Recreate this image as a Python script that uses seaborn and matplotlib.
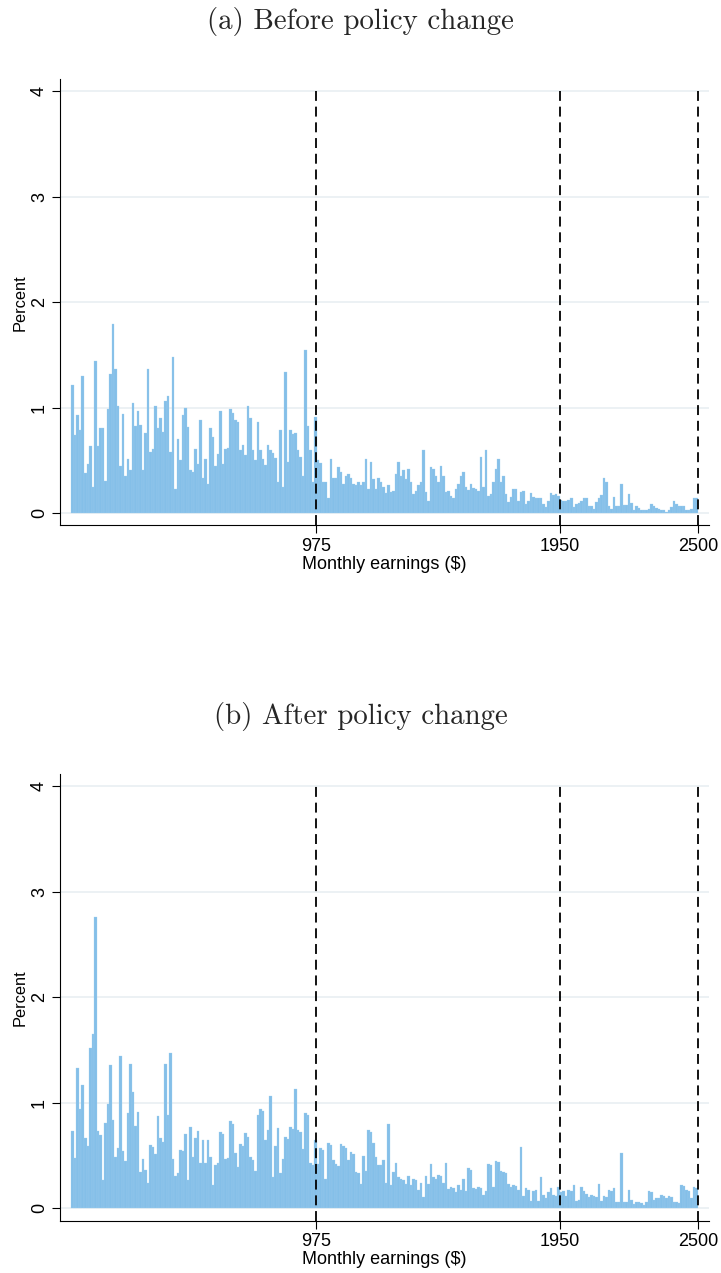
import numpy as np
import pandas as pd
import matplotlib
matplotlib.use("Agg")
import matplotlib.pyplot as plt
import seaborn as sns

# bins of $10 from 0 to 2500, values are percent of workers in each bin
bin_width = 10
bin_edges = np.arange(0, 2500 + bin_width, bin_width)
cutoffs = [975, 1950, 2500]
y_ticks = [0, 1, 2, 3, 4]
x_ticks = [975, 1950, 2500]
panel_titles = ["(a) Before policy change", "(b) After policy change"]

pct_before = [
    1.21, 0.74, 0.93, 0.79, 1.30, 0.38, 0.47, 0.64, 0.25, 1.44,
    0.64, 0.81, 0.81, 0.31, 0.99, 1.32, 1.79, 1.37, 1.02, 0.45,
    0.94, 0.35, 0.51, 0.41, 1.04, 0.83, 0.97, 0.84, 0.41, 0.76,
    1.37, 0.58, 0.61, 1.02, 0.81, 0.90, 0.77, 1.06, 1.11, 0.58,
    1.48, 0.23, 0.70, 0.50, 0.93, 1.00, 0.82, 0.41, 0.39, 0.61,
    0.47, 0.88, 0.33, 0.51, 0.28, 0.81, 0.72, 0.45, 0.56, 0.97,
    0.47, 0.61, 0.62, 0.99, 0.95, 0.88, 0.86, 0.60, 0.65, 0.55,
    1.02, 0.90, 0.60, 0.50, 0.86, 0.60, 0.51, 0.46, 0.65, 0.60,
    0.57, 0.52, 0.30, 0.79, 0.25, 1.34, 0.49, 0.79, 0.75, 0.76,
    0.60, 0.53, 0.35, 1.55, 0.83, 0.60, 0.30, 0.91, 0.50, 0.48,
    0.30, 0.30, 0.14, 0.51, 0.33, 0.33, 0.44, 0.39, 0.28, 0.35,
    0.37, 0.33, 0.28, 0.27, 0.30, 0.27, 0.30, 0.51, 0.23, 0.49,
    0.32, 0.23, 0.33, 0.30, 0.25, 0.19, 0.27, 0.20, 0.21, 0.37,
    0.49, 0.35, 0.41, 0.32, 0.42, 0.30, 0.18, 0.21, 0.27, 0.30,
    0.60, 0.20, 0.12, 0.44, 0.42, 0.35, 0.30, 0.45, 0.35, 0.20,
    0.21, 0.16, 0.14, 0.23, 0.28, 0.35, 0.39, 0.25, 0.22, 0.28,
    0.24, 0.23, 0.21, 0.53, 0.25, 0.60, 0.16, 0.18, 0.30, 0.42,
    0.51, 0.30, 0.35, 0.18, 0.11, 0.15, 0.23, 0.23, 0.12, 0.20,
    0.21, 0.09, 0.12, 0.19, 0.15, 0.14, 0.14, 0.14, 0.09, 0.06,
    0.12, 0.19, 0.17, 0.18, 0.16, 0.13, 0.12, 0.12, 0.13, 0.14,
    0.06, 0.09, 0.10, 0.12, 0.14, 0.14, 0.07, 0.07, 0.04, 0.11,
    0.14, 0.17, 0.33, 0.30, 0.07, 0.04, 0.15, 0.07, 0.07, 0.28,
    0.08, 0.08, 0.18, 0.10, 0.03, 0.07, 0.05, 0.03, 0.03, 0.03,
    0.04, 0.09, 0.07, 0.05, 0.04, 0.03, 0.03, 0.01, 0.03, 0.06,
    0.12, 0.09, 0.07, 0.07, 0.07, 0.03, 0.03, 0.04, 0.14, 0.14,
]

pct_after = [
    0.73, 0.48, 1.33, 0.94, 1.17, 0.67, 0.59, 1.52, 1.65, 2.76,
    0.73, 0.69, 0.27, 0.81, 0.99, 1.36, 0.84, 0.49, 0.57, 1.44,
    0.54, 0.45, 0.90, 1.37, 1.10, 0.78, 0.91, 0.34, 0.47, 0.36,
    0.24, 0.60, 0.58, 0.51, 0.87, 0.67, 0.63, 1.37, 0.88, 1.47,
    0.47, 0.31, 0.33, 0.55, 0.54, 0.70, 0.27, 0.77, 0.49, 0.67,
    0.73, 0.43, 0.65, 0.43, 0.65, 0.49, 0.22, 0.41, 0.43, 0.72,
    0.70, 0.47, 0.48, 0.83, 0.80, 0.52, 0.39, 0.61, 0.59, 0.71,
    0.68, 0.49, 0.46, 0.35, 0.88, 0.94, 0.92, 0.65, 0.74, 1.06,
    0.30, 0.59, 0.76, 0.33, 0.47, 0.68, 0.66, 0.77, 0.75, 1.13,
    0.74, 0.72, 0.56, 0.90, 0.88, 0.43, 0.41, 0.65, 0.42, 0.57,
    0.55, 0.28, 0.62, 0.60, 0.46, 0.42, 0.40, 0.61, 0.59, 0.57,
    0.46, 0.53, 0.51, 0.34, 0.33, 0.23, 0.50, 0.35, 0.74, 0.72,
    0.62, 0.49, 0.41, 0.41, 0.46, 0.24, 0.80, 0.22, 0.34, 0.43,
    0.30, 0.28, 0.27, 0.23, 0.31, 0.22, 0.28, 0.27, 0.17, 0.24,
    0.11, 0.31, 0.23, 0.42, 0.30, 0.28, 0.32, 0.31, 0.24, 0.43,
    0.18, 0.20, 0.19, 0.15, 0.22, 0.17, 0.28, 0.16, 0.38, 0.36,
    0.19, 0.18, 0.20, 0.19, 0.13, 0.16, 0.42, 0.41, 0.20, 0.45,
    0.44, 0.35, 0.34, 0.33, 0.23, 0.20, 0.22, 0.21, 0.17, 0.58,
    0.12, 0.19, 0.17, 0.07, 0.16, 0.17, 0.07, 0.30, 0.13, 0.10,
    0.15, 0.19, 0.13, 0.12, 0.20, 0.15, 0.16, 0.12, 0.17, 0.16,
    0.22, 0.07, 0.08, 0.20, 0.16, 0.14, 0.11, 0.13, 0.12, 0.11,
    0.23, 0.07, 0.12, 0.11, 0.17, 0.16, 0.19, 0.06, 0.06, 0.52,
    0.06, 0.06, 0.17, 0.08, 0.04, 0.06, 0.06, 0.05, 0.03, 0.06,
    0.16, 0.15, 0.08, 0.10, 0.10, 0.13, 0.12, 0.10, 0.12, 0.11,
    0.06, 0.06, 0.05, 0.22, 0.21, 0.17, 0.16, 0.10, 0.20, 0.19,
]

bar_color = "#84bfe8"
edge_color = "#a2cff0"

sns.set_style("white")
plt.rcParams["font.family"] = ["Liberation Sans", "DejaVu Sans"]


def earnings_hist(ax, pct):
    """Draw one histogram panel from the binned percentages."""
    df = pd.DataFrame({"earnings": bin_edges[:-1] + bin_width / 2,
                       "pct": pct})
    ax.set_axisbelow(True)
    ax.yaxis.grid(True, color="#e9eff2", linewidth=1.2)
    ax.xaxis.grid(False)
    sns.histplot(data=df, x="earnings", weights="pct",
                 binwidth=bin_width, binrange=(0, 2500),
                 ax=ax, color=bar_color, alpha=1, edgecolor=edge_color,
                 linewidth=0.2)
    ybottom = -0.116
    ax.set_xlim(-47, 2545)
    ax.set_ylim(ybottom, 4.11)
    # policy cutoffs
    ax.vlines(cutoffs, ybottom, 4, colors="black", linewidth=1.3,
              linestyles=(0, (5.5, 3.2)))

    ax.set_yticks(y_ticks)
    ax.set_yticklabels([str(t) for t in y_ticks], rotation=90, va="center")
    ax.set_xticks(x_ticks)
    ax.set_xticklabels([str(t) for t in x_ticks])
    ax.tick_params(axis="both", direction="out", length=5.5, width=0.8,
                   color="black", labelsize=13, labelcolor="black",
                   left=True, bottom=True)
    ax.tick_params(axis="y", pad=3)
    ax.tick_params(axis="x", pad=3.5)

    ax.set_xlabel("Monthly earnings ($)", fontsize=13, labelpad=1,
                  color="black")
    ax.set_ylabel("Percent", fontsize=11.8, labelpad=2, color="black")

    sns.despine(ax=ax)
    for side in ["left", "bottom"]:
        ax.spines[side].set_linewidth(0.8)
        ax.spines[side].set_color("black")


fig = plt.figure(figsize=(7.21, 12.73), dpi=100)
ax_a = fig.add_axes([0.0828, 0.5872, 0.9006, 0.3505])
ax_b = fig.add_axes([0.0828, 0.0412, 0.9006, 0.3505])

earnings_hist(ax_a, pct_before)
earnings_hist(ax_b, pct_after)

fig.text(0.5, 0.9772, panel_titles[0], ha="center", va="baseline",
         fontsize=20.8, fontfamily="cmr10")
fig.text(0.5, 0.4313, panel_titles[1], ha="center", va="baseline",
         fontsize=20.8, fontfamily="cmr10")

fig.savefig("out.png", dpi=100, facecolor="white")
